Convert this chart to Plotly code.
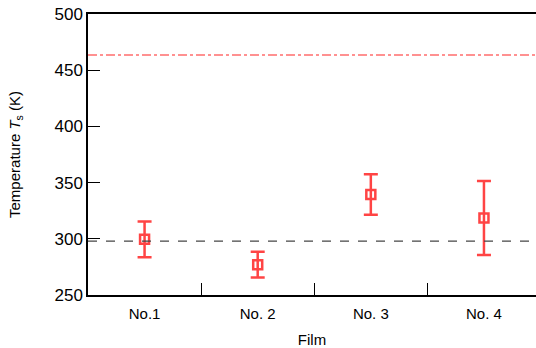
import plotly.graph_objects as go

# Film samples and measured surface temperatures (K)
films = ["No.1", "No. 2", "No. 3", "No. 4"]
temps = [299.5, 277, 339.5, 318.5]
errs = [16, 11.5, 18, 33]

# Reference levels
upper_level = 463.5
ambient_level = 298

red = "rgb(255,68,68)"

fig = go.Figure()

fig.add_trace(go.Scatter(
    x=films, y=temps,
    mode="markers",
    marker=dict(symbol="square-open", size=9, color=red, line=dict(width=2.5, color=red)),
    error_y=dict(type="data", array=errs, visible=True, color=red, thickness=2.5, width=7),
    showlegend=False,
))

fig.add_hline(y=upper_level, line=dict(color="rgb(255,110,110)", width=1.5, dash="dashdot"))
fig.add_hline(y=ambient_level, line=dict(color="rgb(70,70,70)", width=1.3, dash="dash"))

fig.update_layout(
    width=536, height=348,
    margin=dict(l=88, r=0, t=14, b=53),
    paper_bgcolor="white", plot_bgcolor="white",
    font=dict(family="Liberation Sans, Arial", size=15, color="black"),
)

fig.update_xaxes(
    type="category", range=[-0.5, 3.46],
    showline=True, linecolor="black", linewidth=1.5, mirror=True,
    ticks="inside", tickson="boundaries", ticklen=12, tickwidth=1.2, tickcolor="black",
    ticklabelstandoff=4,
    showgrid=False, zeroline=False,
    tickfont=dict(size=15),
    title=dict(text="Film", font=dict(size=15), standoff=16),
)
fig.update_yaxes(
    range=[250, 500], tickvals=[250, 300, 350, 400, 450, 500],
    showline=True, linecolor="black", linewidth=1.5,
    ticks="inside", ticklen=12, tickwidth=1.2, tickcolor="black",
    showgrid=False, zeroline=False,
    tickfont=dict(size=17),
    title=dict(text="Temperature <i>T</i><sub>s</sub> (K)", font=dict(size=15), standoff=30),
)

fig.write_html("out.html")
